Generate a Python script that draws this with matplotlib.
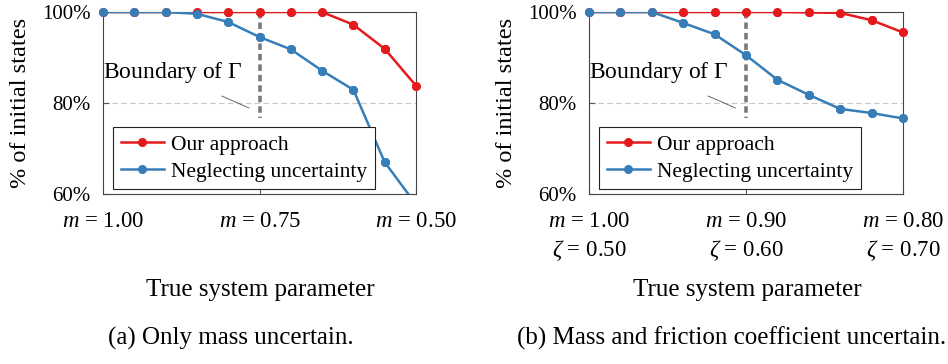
import numpy as np
import matplotlib
matplotlib.use("Agg")
import matplotlib.pyplot as plt

plt.rcParams['font.family'] = ['Liberation Serif', 'DejaVu Serif']
plt.rcParams['mathtext.fontset'] = 'custom'
plt.rcParams['mathtext.rm'] = 'Liberation Serif'
plt.rcParams['mathtext.it'] = 'Liberation Serif:italic'

# data (11 evaluated parameter values per panel)
steps = np.arange(11)
tick_idx = [0, 5, 10]
boundary_idx = 5
boundary_end = 76.8

ticks_a = ["$m$ = 1.00", "$m$ = 0.75", "$m$ = 0.50"]
ours_a = [100, 100, 100, 100, 100, 100, 100, 100, 97.2, 91.9, 83.8]
neglect_a = [100, 100, 100, 99.6, 97.8, 94.5, 91.8, 87.1, 82.9, 67.0, 57.7]

ticks_b = ["$m$ = 1.00\n$\\zeta$ = 0.50", "$m$ = 0.90\n$\\zeta$ = 0.60",
           "$m$ = 0.80\n$\\zeta$ = 0.70"]
ours_b = [100, 100, 100, 100, 100, 100, 100, 99.9, 99.8, 98.2, 95.5]
neglect_b = [100, 100, 100, 97.6, 95.1, 90.5, 85.1, 81.8, 78.7, 77.8, 76.6]

y_ticks = [60, 80, 100]
y_ticklabels = ["60%", "80%", "100%"]

RED = '#e41a1c'
BLUE = '#377eb8'

fig = plt.figure(figsize=(9.48, 3.64), dpi=100)


def draw_series(ax, y, color, label):
    y = np.asarray(y, dtype=float)
    ax.plot(steps, y, color=color, lw=1.8, marker='o', ms=5.5, label=label, zorder=3)
    inside = y >= 60
    ax.plot(steps[inside], y[inside], 'o', color=color, ms=5.5, clip_on=False, zorder=4)


def panel(rect, ours, neglect, ticklabels):
    ax = fig.add_axes(rect)
    ax.axhline(80, color='#c8c8c8', lw=0.8, ls=(0, (5, 3)), zorder=1)
    ax.plot([boundary_idx, boundary_idx], [100, boundary_end], color='#7a7a7a',
            lw=2.6, ls=(0, (1.8, 1.1)), zorder=2)
    draw_series(ax, ours, RED, 'Our approach')
    draw_series(ax, neglect, BLUE, 'Neglecting uncertainty')

    ax.set_xlim(0, 10)
    ax.set_ylim(60, 100)
    ax.set_xticks(tick_idx)
    ax.set_xticklabels(ticklabels, fontsize=16.5, linespacing=1.35)
    ax.set_yticks(y_ticks)
    ax.set_yticklabels(y_ticklabels, fontsize=15)
    ax.tick_params(direction='in', length=4, color='#555555', pad=9)
    ax.tick_params(axis='x', pad=12)
    for s in ax.spines.values():
        s.set_color('#444444')
        s.set_linewidth(0.8)

    ax.text(0.0, 0.665, r'Boundary of $\Gamma$', transform=ax.transAxes,
            ha='left', va='center', fontsize=17)
    ax.plot([0.38, 0.466], [0.538, 0.473], color='#666666', lw=0.7,
            transform=ax.transAxes)

    leg = ax.legend(loc='lower left', bbox_to_anchor=(0.032, 0.027), borderaxespad=0,
                    fontsize=15.5, fancybox=False, framealpha=1, edgecolor='#222222',
                    handlelength=2.0, handletextpad=0.35, labelspacing=0.3,
                    borderpad=0.35)
    leg.get_frame().set_linewidth(0.8)
    return ax


panel([103 / 948, 1 - 194 / 364, 313 / 948, 182 / 364], ours_a, neglect_a, ticks_a)
panel([589 / 948, 1 - 194 / 364, 314 / 948, 182 / 364], ours_b, neglect_b, ticks_b)

fig.text(21 / 948, 1 - 103 / 364, '% of initial states', rotation=90,
         ha='center', va='center', fontsize=17.5)
fig.text(506 / 948, 1 - 103 / 364, '% of initial states', rotation=90,
         ha='center', va='center', fontsize=17.5)

fig.text(260 / 948, 1 - 290 / 364, 'True system parameter', ha='center', va='center', fontsize=18)
fig.text(747 / 948, 1 - 290 / 364, 'True system parameter', ha='center', va='center', fontsize=18)
fig.text(231 / 948, 1 - 338 / 364, '(a) Only mass uncertain.', ha='center', va='center', fontsize=18)
fig.text(732 / 948, 1 - 338 / 364, '(b) Mass and friction coefficient uncertain.',
         ha='center', va='center', fontsize=18)

fig.savefig('out.png', dpi=100)
